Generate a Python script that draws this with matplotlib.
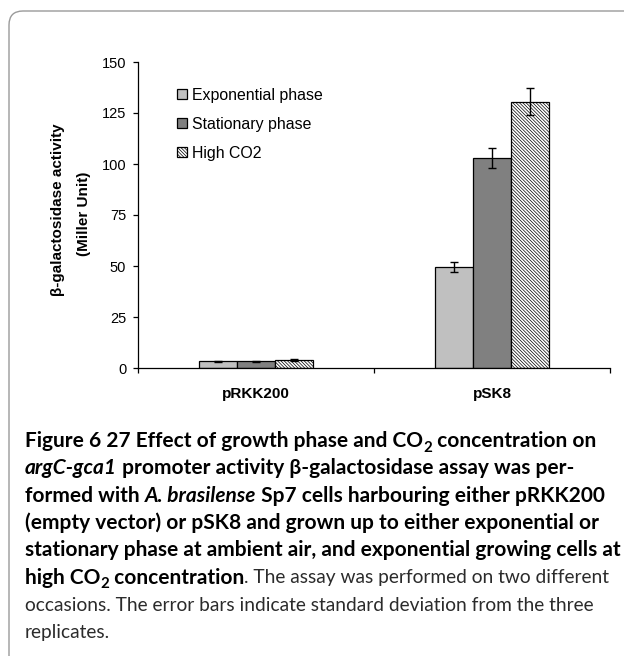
import matplotlib
matplotlib.use("Agg")
import matplotlib.pyplot as plt
import numpy as np
from matplotlib.patches import FancyBboxPatch
from matplotlib.transforms import IdentityTransform

# beta-galactosidase activity (Miller units)
plasmids = ["pRKK200", "pSK8"]
series_names = ["Exponential phase", "Stationary phase", "High CO2"]
exponential = [3.2, 49.5]
exponential_err = [0.3, 2.4]
stationary = [3.2, 103.0]
stationary_err = [0.3, 5.0]
high_co2 = [4.0, 130.5]
high_co2_err = [0.4, 6.6]
y_ticks = [0, 25, 50, 75, 100, 125, 150]

W, H = 624, 656
fig = plt.figure(figsize=(W / 100, H / 100), dpi=100)
fig.patch.set_facecolor("white")

# rounded frame around the whole figure panel
frame = FancyBboxPatch((9, -60), 720, H - 11 + 60,
                       boxstyle="round,pad=0,rounding_size=14",
                       transform=IdentityTransform(), facecolor="none",
                       edgecolor="#9a9a9a", linewidth=1.0)
fig.add_artist(frame)

# axes placed in pixel coordinates
ax_l, ax_r, ax_t, ax_b = 138, 610, 62, 368
ax = fig.add_axes([ax_l / W, 1 - ax_b / H, (ax_r - ax_l) / W, (ax_b - ax_t) / H])

centers = np.array([0.5, 1.5])
bw = 0.16
err_kw = dict(ecolor="black", elinewidth=1.0, capsize=3.2, capthick=1.0)
ax.bar(centers - bw, exponential, bw, yerr=exponential_err, color="#c0c0c0",
       edgecolor="black", linewidth=0.9, label=series_names[0], error_kw=err_kw)
ax.bar(centers, stationary, bw, yerr=stationary_err, color="#808080",
       edgecolor="black", linewidth=0.9, label=series_names[1], error_kw=err_kw)
plt.rcParams["hatch.linewidth"] = 0.5
plt.rcParams["hatch.color"] = "#222222"
ax.bar(centers + bw, high_co2, bw, yerr=high_co2_err, color="white",
       edgecolor="black", hatch="\\" * 10, linewidth=0.9,
       label=series_names[2], error_kw=err_kw)

ax.set_xlim(0, 2)
ax.set_ylim(0, 150)
ax.spines["top"].set_visible(False)
ax.spines["right"].set_visible(False)
for s in ["left", "bottom"]:
    ax.spines[s].set_linewidth(0.9)
ax.set_yticks(y_ticks)
ax.set_yticklabels([str(v) for v in y_ticks], family="Liberation Sans", fontsize=10.5)
ax.tick_params(axis="y", direction="out", length=3.5, width=0.9, pad=5)
ax.set_xticks([0, 1, 2])
ax.set_xticklabels(["", "", ""])
ax.tick_params(axis="x", which="major", direction="out", length=3.5, width=0.9)
ax.set_xticks(centers, minor=True)
ax.set_xticklabels(plasmids, minor=True, family="Liberation Sans",
                   fontweight="bold", fontsize=11)
ax.tick_params(axis="x", which="minor", length=0, pad=14)

fig.text(58 / W, 1 - 210 / H, "\u03b2-galactosidase activity", rotation=90,
         ha="center", va="center", family="Liberation Sans", fontweight="bold",
         fontsize=11)
fig.text(84 / W, 1 - 214 / H, "(Miller Unit)", rotation=90,
         ha="center", va="center", family="Liberation Sans", fontweight="bold",
         fontsize=11)

leg = ax.legend(loc="upper left", bbox_to_anchor=(177 / W, 1 - 88 / H),
                bbox_transform=fig.transFigure, frameon=False, borderpad=0,
                borderaxespad=0, handlelength=0.6, handleheight=0.6,
                handletextpad=0.35, labelspacing=0.88,
                prop={"family": "Liberation Sans", "size": 11.4})

# caption, drawn line by line with mixed styles
cap_font = "Lato"
caption = [
    [("Figure 6 27 Effect of growth phase and CO", "b"), ("2", "sub"),
     (" concentration on", "b")],
    [("argC-gca1", "bi"), (" promoter activity \u03b2-galactosidase assay was per-", "b")],
    [("formed with ", "b"), ("A. brasilense", "bi"),
     (" Sp7 cells harbouring either pRKK200", "b")],
    [("(empty vector) or pSK8 and grown up to either exponential or", "b")],
    [("stationary phase at ambient air, and exponential growing cells at", "b")],
    [("high CO", "b"), ("2", "sub"), (" concentration", "b"),
     (". The assay was performed on two different", "r")],
    [("occasions. The error bars indicate standard deviation from the three", "r")],
    [("replicates.", "r")],
]

renderer = fig.canvas.get_renderer()
sizes = {"b": 12, "r": 12}


def style(kind):
    kw = dict(family=cap_font, fontsize=sizes["b"], color="black", fontweight="bold")
    if kind == "bi":
        kw["fontstyle"] = "italic"
    elif kind == "sub":
        kw["fontsize"] = sizes["b"] * 0.72
    elif kind == "r":
        kw["fontweight"] = "normal"
        kw["fontsize"] = sizes["r"]
        kw["color"] = "#2b2b2b"
    return kw


def seg_width(txt, kw):
    t1 = fig.text(0, 0, "|" + txt + "|", **kw)
    t2 = fig.text(0, 0, "||", **kw)
    w = t1.get_window_extent(renderer).width - t2.get_window_extent(renderer).width
    t1.remove()
    t2.remove()
    return w


# fit bold and regular sizes to the line widths seen in the reference
wb = sum(seg_width(t, style(k)) for t, k in caption[4])
wr = sum(seg_width(t, style(k)) for t, k in caption[6])
sizes["b"] = 12 * (618 - 25) / wb
sizes["r"] = 12 * (591 - 25) / wr

x0 = 25
base0 = 447
step = 27.3
for i, line in enumerate(caption):
    x = x0
    yb = base0 + i * step
    for txt, kind in line:
        kw = style(kind)
        dy = 4.5 if kind == "sub" else 0
        fig.text(x / W, 1 - (yb + dy) / H, txt, ha="left", va="baseline", **kw)
        x += seg_width(txt, kw)

fig.savefig("out.png", dpi=100)
